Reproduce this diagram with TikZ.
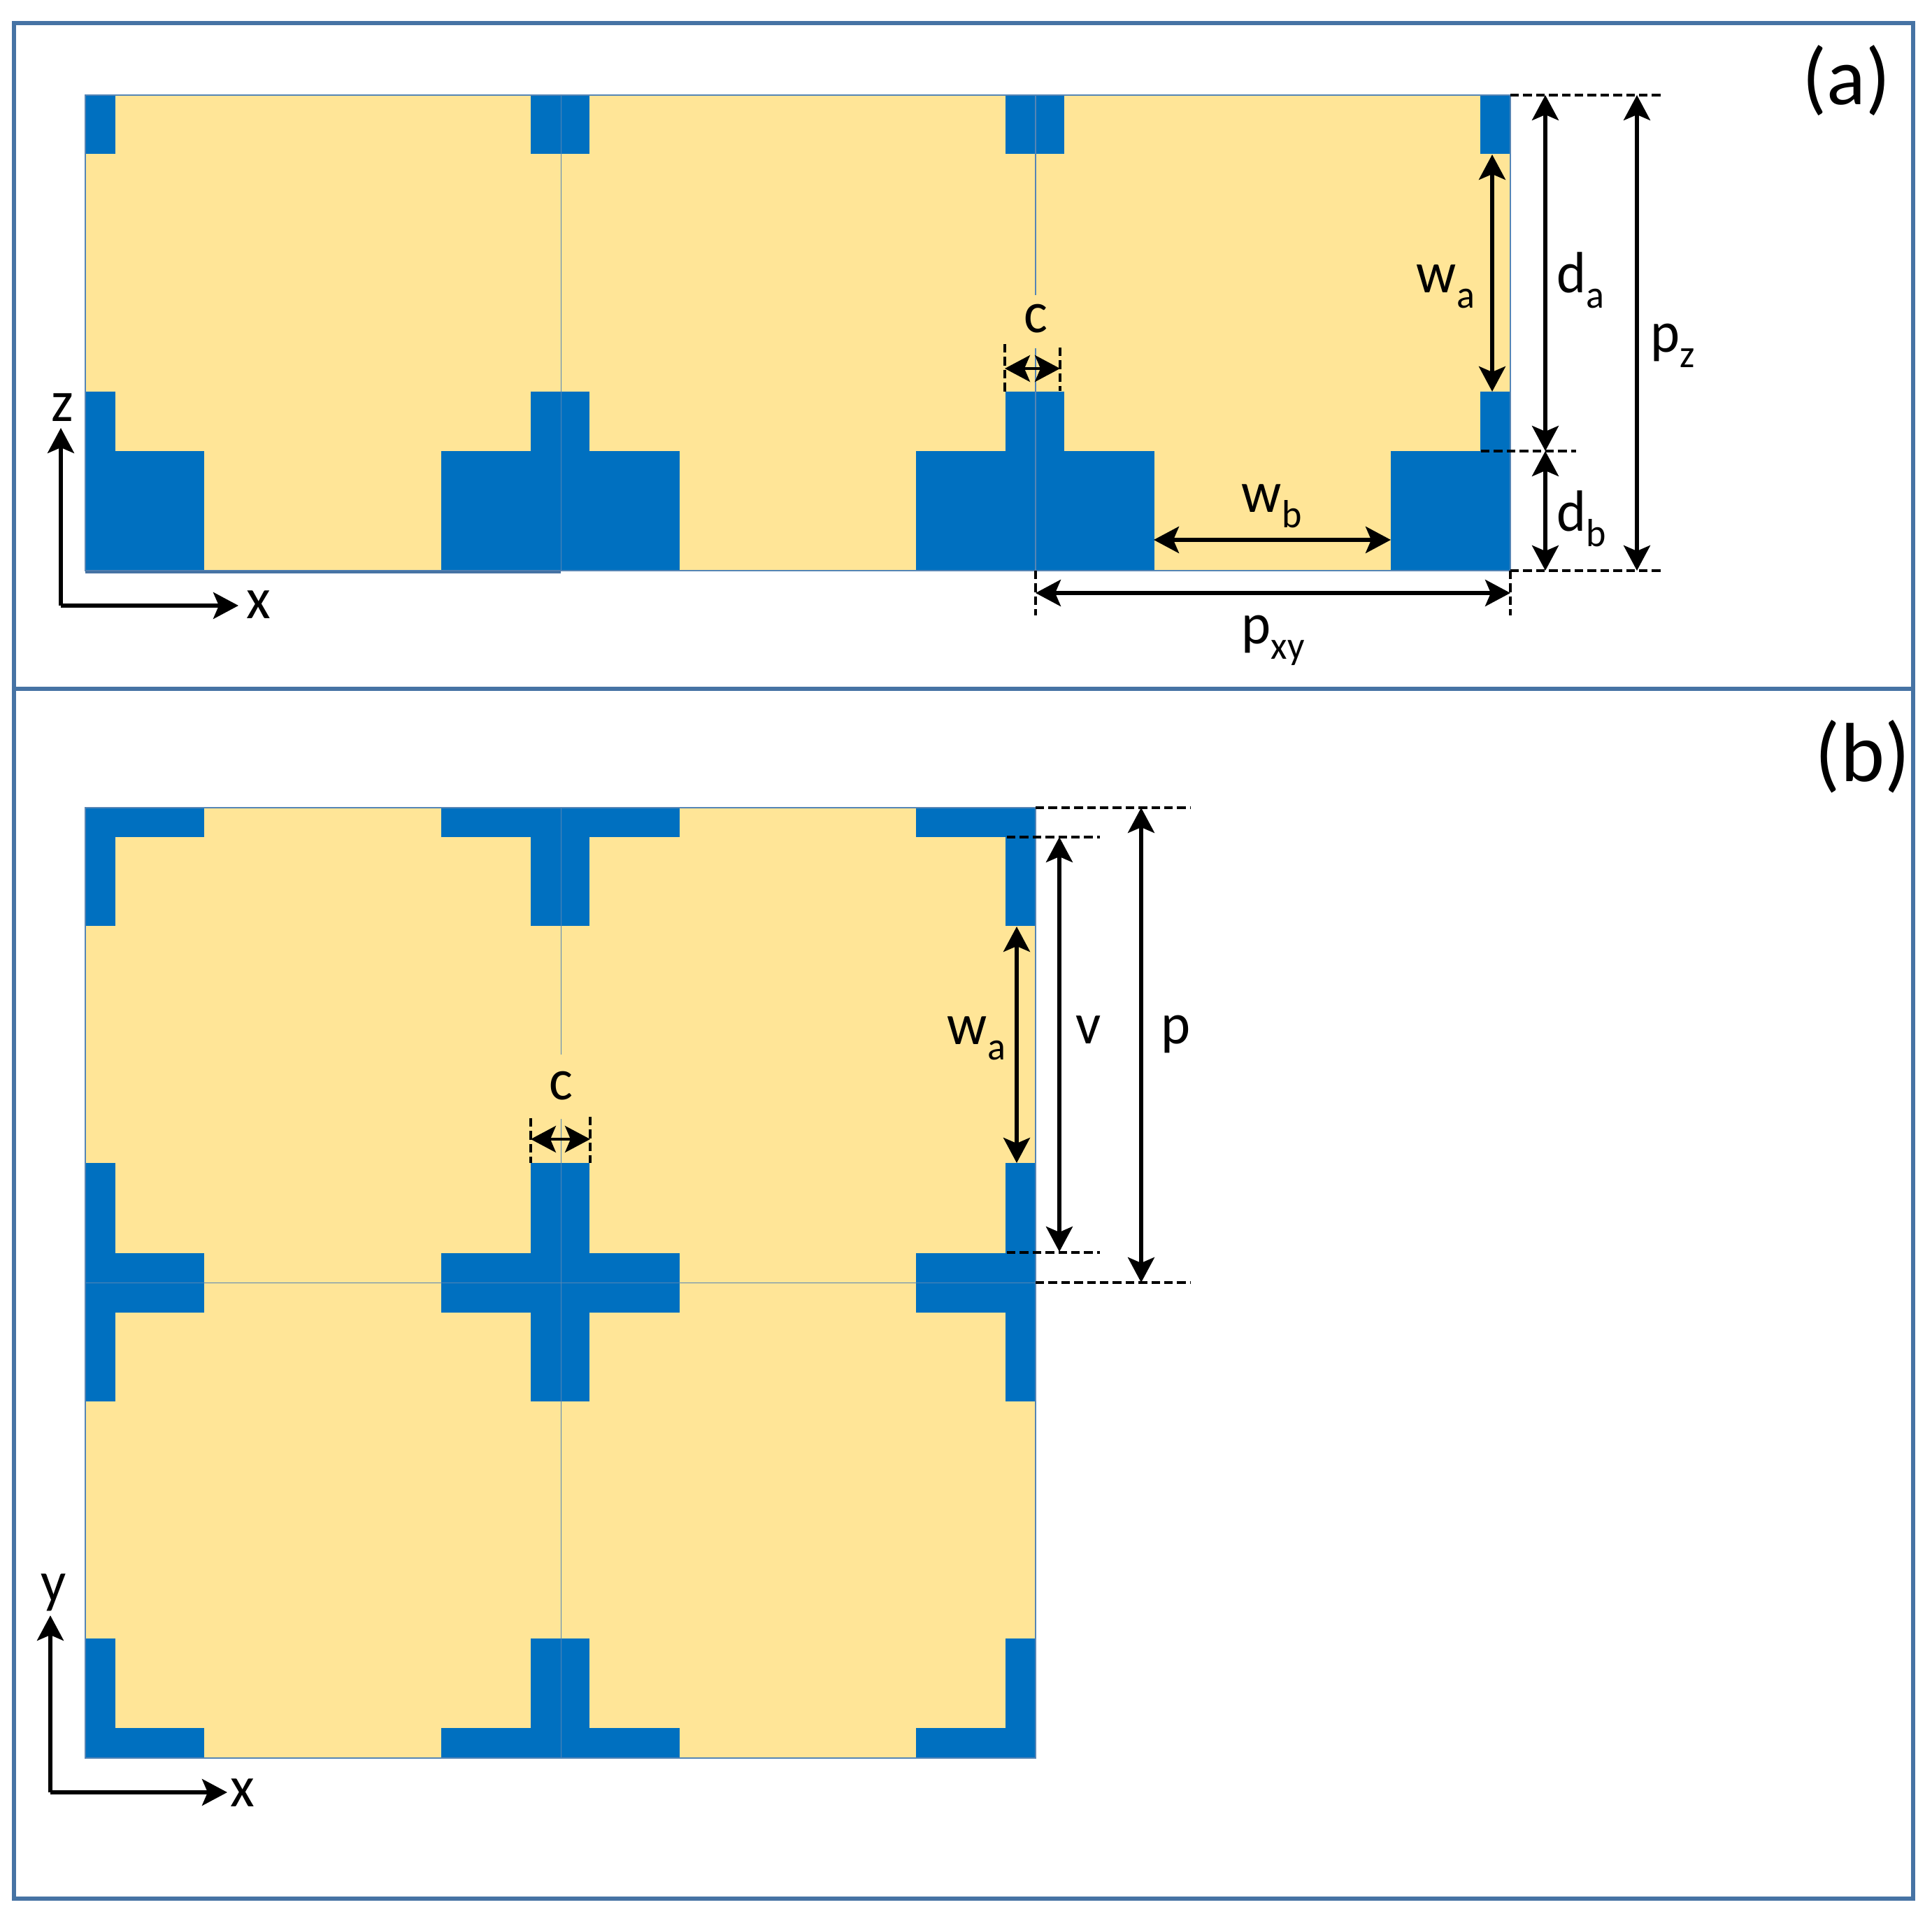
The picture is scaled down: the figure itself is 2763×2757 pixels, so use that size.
\documentclass[tikz,border=0pt]{standalone}
\usepackage{fontspec}
\setmainfont{Carlito}
\usetikzlibrary{arrows.meta}
\definecolor{cellfill}{HTML}{FFE597}
\definecolor{metal}{HTML}{0070C0}
\definecolor{framec}{HTML}{4673A4}
\definecolor{gridc}{HTML}{5585B5}
\newcommand{\tall}[1]{\scalebox{1}[1.04]{#1}}
\newcommand{\withsub}[2]{\tall{#1\raisebox{-5.2pt}{\fontsize{13.5}{14}\selectfont #2}}}
\tikzset{
  framebox/.style={draw=framec,line width=1.35pt},
  gridline/.style={draw=gridc,line width=0.4pt},
  dim/.style={draw=black,line width=1.35pt,{Stealth[length=9pt,width=9.5pt,inset=2pt]}-{Stealth[length=9pt,width=9.5pt,inset=2pt]}},
  axisline/.style={draw=black,line width=1.35pt,-{Stealth[length=9pt,width=9.5pt,inset=2pt]}},
  guide/.style={draw=black,line width=0.95pt,dash pattern=on 3.1pt off 1.5pt},
  lbl/.style={anchor=base west,inner sep=0pt,font=\fontsize{20}{24}\selectfont},
  panel/.style={anchor=base west,inner sep=0pt},
  clabel/.style={anchor=base,inner ysep=0pt,inner xsep=2pt,fill=cellfill,font=\fontsize{20}{24}\selectfont},
}
\begin{document}
\begin{tikzpicture}[x=0.25pt,y=-0.25pt]
\useasboundingbox (0,0) rectangle (2763,2757);
% frames
\draw[framebox] (20,33) rectangle (2736,985);
\draw[framebox] (20,985) rectangle (2736,2715);
% panel (a) cells
\foreach \X/\Y/\W in {122/802.3/43,802.3/1481/41,1481/2160/41}{
  \fill[cellfill] (\X,136) rectangle (\Y,816);
  \fill[metal] (\X,136) rectangle ++(\W,84);
  \fill[metal] (\Y,136) rectangle ++(-43.5,84);
  \fill[metal] (\X,560) rectangle ++(\W,86);
  \fill[metal] (\Y,560) rectangle ++(-43.5,86);
  \fill[metal] (\X,645) rectangle ++(169.5,171);
  \fill[metal] (\Y,645) rectangle ++(-171,171);
  \draw[gridline] (\X,136) rectangle (\Y,816);
}
\fill[framec] (122,816) rectangle (802.3,820);
% panel (b) cells
\foreach \X/\Y/\W in {122/802.3/43,802.3/1481/41}{
  \foreach \T/\B in {1155/1834.5,1834.5/2514}{
    \fill[cellfill] (\X,\T) rectangle (\Y,\B);
    \fill[metal] (\X,\T) rectangle ++(169.5,42);
    \fill[metal] (\X,\T) rectangle ++(\W,169);
    \fill[metal] (\Y,\T) rectangle ++(-171,42);
    \fill[metal] (\Y,\T) rectangle ++(-43.5,169);
    \fill[metal] (\X,\B) rectangle ++(169.5,-43);
    \fill[metal] (\X,\B) rectangle ++(\W,-171);
    \fill[metal] (\Y,\B) rectangle ++(-171,-43);
    \fill[metal] (\Y,\B) rectangle ++(-43.5,-171);
    \draw[gridline] (\X,\T) rectangle (\Y,\B);
  }
}
% panel (a) guide end points
\coordinate (aTopA) at (2160,136);   \coordinate (aTopB) at (2380,136);
\coordinate (aBotA) at (2160,816);   \coordinate (aBotB) at (2380,816);
\coordinate (aMidA) at (2118,645);   \coordinate (aMidB) at (2254,645);
\coordinate (aLeftA) at (1481,816);  \coordinate (aLeftB) at (1481,880);
\coordinate (aRightA) at (2160,816); \coordinate (aRightB) at (2160,880);
\coordinate (aCLa) at (1437,492);    \coordinate (aCLb) at (1437,560);
\coordinate (aCRa) at (1516,497);    \coordinate (aCRb) at (1516,559);
\draw[guide] (aTopA) -- (aTopB);
\draw[guide] (aBotA) -- (aBotB);
\draw[guide] (aMidA) -- (aMidB);
\draw[guide] (aLeftA) -- (aLeftB);
\draw[guide] (aRightA) -- (aRightB);
\draw[guide] (aCLa) -- (aCLb);
\draw[guide] (aCRa) -- (aCRb);
% panel (a) dimension arrows
\coordinate (pxyL) at (1481,848); \coordinate (pxyR) at (2160,848);
\coordinate (wbL) at (1650,772);  \coordinate (wbR) at (1989,772);
\coordinate (waT) at (2134,221);  \coordinate (waB) at (2134,560);
\coordinate (daT) at (2210,136);  \coordinate (daB) at (2210,645);
\coordinate (dbT) at (2210,645);  \coordinate (dbB) at (2210,816);
\coordinate (pzT) at (2341,136);  \coordinate (pzB) at (2341,816);
\coordinate (cL) at (1437,527);   \coordinate (cR) at (1516,527);
\draw[dim] (pxyL) -- (pxyR);
\draw[dim] (wbL) -- (wbR);
\draw[dim] (waT) -- (waB);
\draw[dim] (daT) -- (daB);
\draw[dim] (dbT) -- (dbB);
\draw[dim] (pzT) -- (pzB);
\draw[dim,line width=1pt] (cL) -- (cR);
% panel (a) axes
\coordinate (aO) at (87,866); \coordinate (aZ) at (87,612); \coordinate (aX) at (341,866);
\draw[axisline] (aO) -- (aZ);
\draw[axisline] (aO) -- (aX);
% panel (a) labels
\node[lbl] (zA) at (73,603) {\tall{z}};
\node[lbl] (xA) at (352,885) {\tall{x}};
\node[clabel,text height=13.5pt,text depth=5.5pt] (cA) at (1481,476) {\tall{c}};
\node[lbl] (waA) at (2025,419) {\withsub{w}{a}};
\node[lbl] (daA) at (2226,419) {\withsub{d}{a}};
\node[lbl] (pzA) at (2360,504) {\withsub{p}{z}};
\node[lbl] (wbA) at (1775,733) {\withsub{w}{b}};
\node[lbl] (dbA) at (2226,760) {\withsub{d}{b}};
\node[lbl] (pxyA) at (1775,921) {\withsub{p}{xy}};
\node[panel] (panelA) at (2577,150) {\fontsize{29}{34}\selectfont (a)};
% panel (b) guides
\coordinate (bTopA) at (1481,1155);  \coordinate (bTopB) at (1702,1155);
\coordinate (bBotA) at (1481,1834);  \coordinate (bBotB) at (1702,1834);
\coordinate (bVtA) at (1440,1197);   \coordinate (bVtB) at (1573,1197);
\coordinate (bVbA) at (1440,1791);   \coordinate (bVbB) at (1573,1791);
\coordinate (bCLa) at (759,1599);    \coordinate (bCLb) at (759,1663);
\coordinate (bCRa) at (844,1597);    \coordinate (bCRb) at (844,1663);
\draw[guide] (bTopA) -- (bTopB);
\draw[guide] (bBotA) -- (bBotB);
\draw[guide] (bVtA) -- (bVtB);
\draw[guide] (bVbA) -- (bVbB);
\draw[guide] (bCLa) -- (bCLb);
\draw[guide] (bCRa) -- (bCRb);
% panel (b) dimension arrows
\coordinate (bwaT) at (1454,1325); \coordinate (bwaB) at (1454,1663);
\coordinate (bvT) at (1515,1197);  \coordinate (bvB) at (1515,1790);
\coordinate (bpT) at (1632,1155);  \coordinate (bpB) at (1632,1834);
\coordinate (bcL) at (759,1629);   \coordinate (bcR) at (844,1629);
\draw[dim] (bwaT) -- (bwaB);
\draw[dim] (bvT) -- (bvB);
\draw[dim] (bpT) -- (bpB);
\draw[dim,line width=1pt] (bcL) -- (bcR);
% panel (b) axes
\coordinate (bO) at (72,2563); \coordinate (bY) at (72,2310); \coordinate (bX) at (325,2563);
\draw[axisline] (bO) -- (bY);
\draw[axisline] (bO) -- (bX);
% panel (b) labels
\node[lbl] (yB) at (58,2290) {\tall{y}};
\node[lbl] (xB) at (329,2583) {\tall{x}};
\node[clabel,text height=16.25pt,text depth=6.75pt] (cB) at (802,1573) {\tall{c}};
\node[lbl] (waB) at (1354,1494) {\withsub{w}{a}};
\node[lbl] (vB) at (1538,1493) {\tall{v}};
\node[lbl] (pB) at (1660,1493) {\tall{p}};
\node[panel] (panelB) at (2595,1118) {\fontsize{30}{36}\selectfont (b)};
\end{tikzpicture}
\end{document}
